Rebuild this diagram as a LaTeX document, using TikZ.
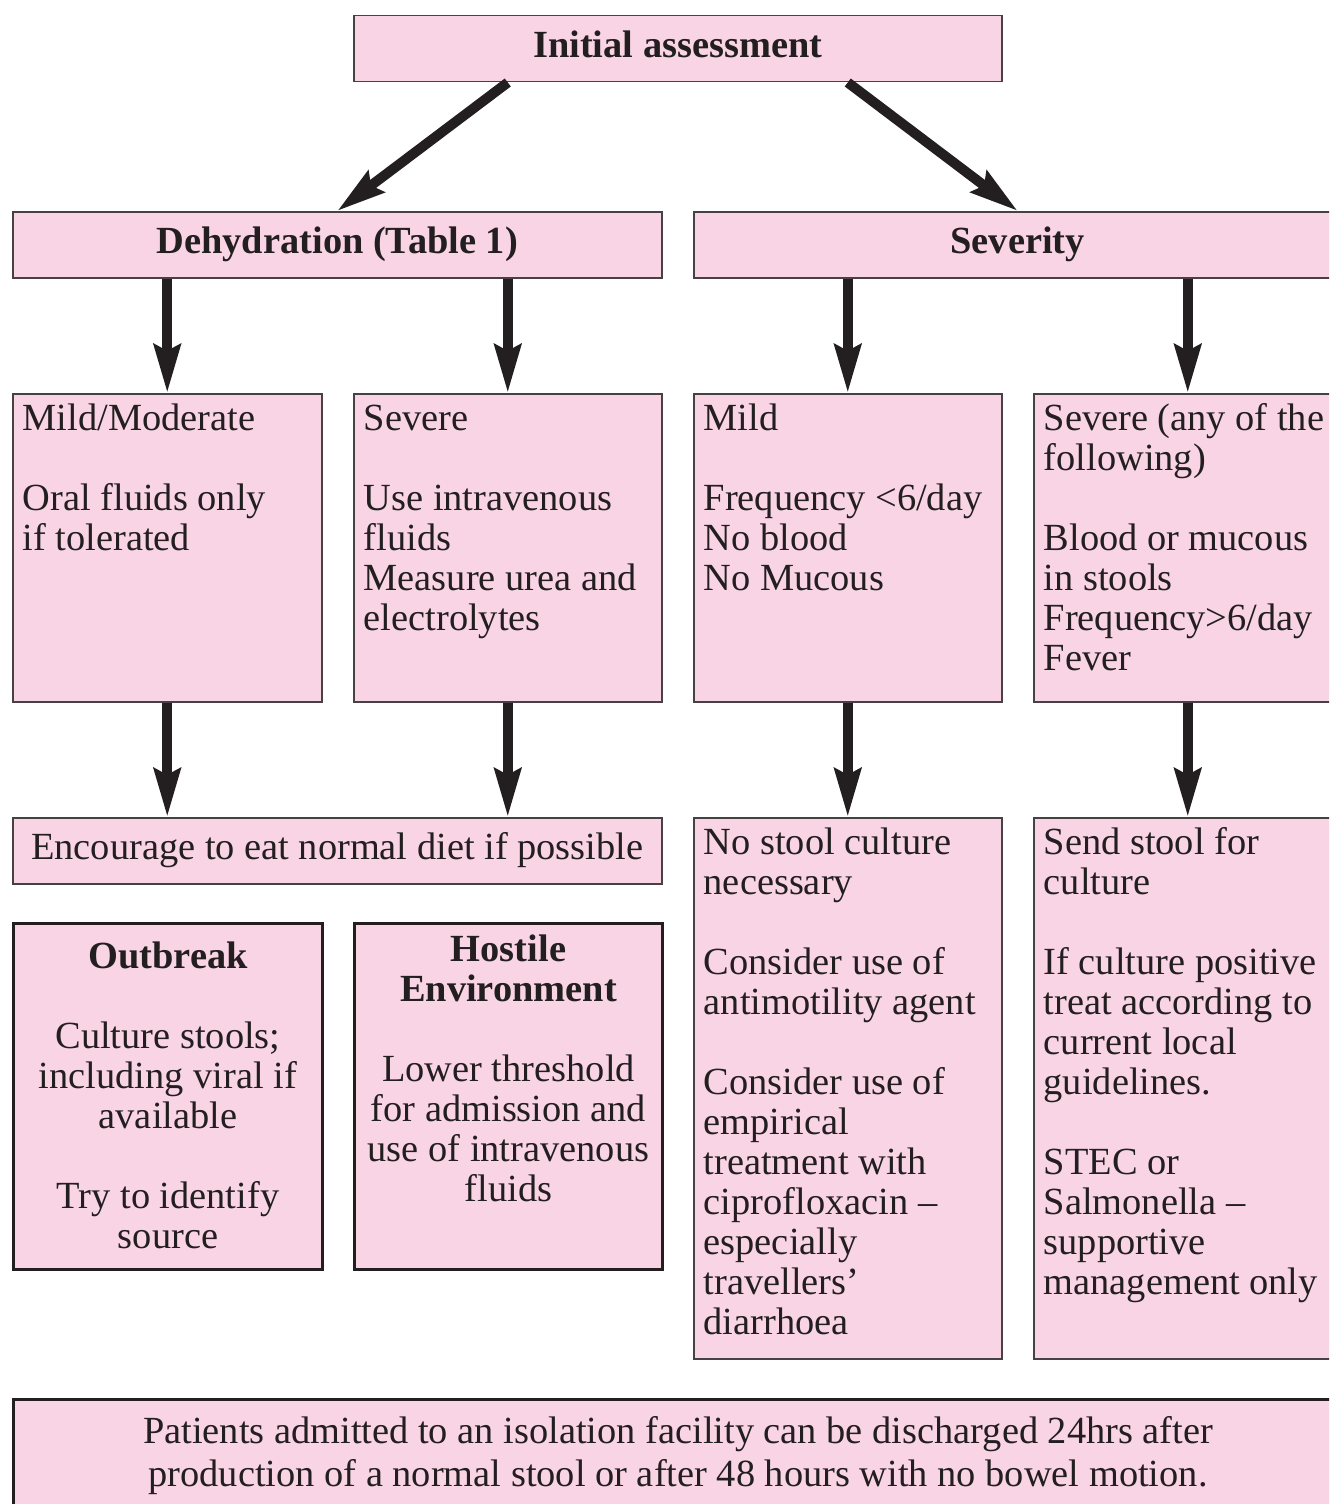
\documentclass[tikz,border=0pt]{standalone}
\usepackage{fontspec}
\setmainfont{Liberation Serif}
\usetikzlibrary{arrows.meta}

\definecolor{boxpink}{RGB}{249,212,229}
\definecolor{ink}{RGB}{35,31,32}
\definecolor{edge}{RGB}{70,66,68}

% text block of fixed size, set from the top
\newcommand{\cellbox}[4]{\parbox[c][#2][t]{#1}{\parskip=0pt\vspace*{#3}\strut#4}}

\begin{document}
\begin{tikzpicture}[x=0.5pt, y=-0.5pt,
  box/.style={draw=edge, fill=boxpink, line width=0.75pt, anchor=north west,
    inner sep=0pt, text=ink, font=\fontsize{19.2}{20}\selectfont},
  bar/.style={box, text height=13pt, text depth=4pt},
  head/.style={bar, font=\fontsize{19.2}{20}\selectfont\bfseries},
  cell/.style={box, inner xsep=5pt},
  heavy/.style={draw=ink, line width=1.5pt},
  arr/.style={draw=ink, line width=5pt, -{Stealth[length=24pt, width=13pt, inset=3pt]}}]

  \useasboundingbox (0,0) rectangle (1329,1504);
  \clip (0,0) rectangle (1329,1504);

  % headers
  \node[head, minimum width=324pt, minimum height=33pt] (init) at (353,15) {Initial assessment};
  \node[head, minimum width=324.5pt, minimum height=33pt] (dehyd) at (12,211) {Dehydration (Table 1)};
  \node[head, minimum width=324pt, minimum height=33pt] (sev) at (693,211) {Severity};

  % third row
  \node[cell] (mildmod) at (12,393) {\cellbox{144.5pt}{154pt}{4.5pt}{\raggedright Mild/Moderate\\[20pt] Oral fluids only\\ if tolerated}};
  \node[cell] (dsevere) at (353,393) {\cellbox{144pt}{154pt}{4.5pt}{\raggedright Severe\\[20pt] Use intravenous\\ fluids\\ Measure urea and\\ electrolytes}};
  \node[cell] (mild) at (693,393) {\cellbox{144pt}{154pt}{4.5pt}{\raggedright Mild\\[20pt] Frequency <6/day\\ No blood\\ No Mucous}};
  \node[cell] (ssevere) at (1033,393) {\cellbox{144pt}{154pt}{4.5pt}{\raggedright Severe (any of the\\ following)\\[20pt] Blood or mucous\\ in stools\\ Frequency>6/day\\ Fever}};

  % fourth row
  \node[bar, minimum width=324.5pt, minimum height=33pt] (diet) at (12,817) {Encourage to eat normal diet if possible};
  \node[cell] (nocult) at (693,817) {\cellbox{144pt}{270.5pt}{4.5pt}{\raggedright No stool culture\\ necessary\\[20pt] Consider use of\\ antimotility agent\\[20pt] Consider use of\\ empirical\\ treatment with\\ ciprofloxacin --\\ especially\\ travellers'\\ diarrhoea}};
  \node[cell] (sendcult) at (1033,817) {\cellbox{144pt}{270.5pt}{4.5pt}{\raggedright Send stool for\\ culture\\[20pt] If culture positive\\ treat according to\\ current local\\ guidelines.\\[20pt] STEC or\\ Salmonella --\\ supportive\\ management only}};

  \node[cell, heavy] (outbreak) at (12,922) {\cellbox{144.5pt}{173pt}{8.5pt}{\centering\textbf{Outbreak}\\[20pt] Culture stools;\\ including viral if\\ available\\[20pt] Try to identify\\ source}};
  \node[cell, heavy] (hostile) at (353,922) {\cellbox{144pt}{173pt}{5pt}{\centering\textbf{Hostile}\\ \textbf{Environment}\\[20pt] Lower threshold\\ for admission and\\ use of intravenous\\ fluids}};

  \node[box, heavy, minimum width=664.5pt, minimum height=56.5pt, align=center] (discharge) at (12,1398)
    {Patients admitted to an isolation facility can be discharged 24hrs after\\[1.5pt] production of a normal stool or after 48 hours with no bowel motion.};

  % arrows
  \draw[arr] (dsevere.north |- init.south) -- (dehyd.north);
  \draw[arr] (mild.north |- init.south) -- (sev.north);
  \draw[arr] (mildmod.north |- dehyd.south) -- (mildmod.north);
  \draw[arr] (dsevere.north |- dehyd.south) -- (dsevere.north);
  \draw[arr] (mild.north |- sev.south) -- (mild.north);
  \draw[arr] (ssevere.north |- sev.south) -- (ssevere.north);
  \draw[arr] (mildmod.south) -- (mildmod.south |- diet.north);
  \draw[arr] (dsevere.south) -- (dsevere.south |- diet.north);
  \draw[arr] (mild.south) -- (nocult.north);
  \draw[arr] (ssevere.south) -- (sendcult.north);
\end{tikzpicture}
\end{document}
